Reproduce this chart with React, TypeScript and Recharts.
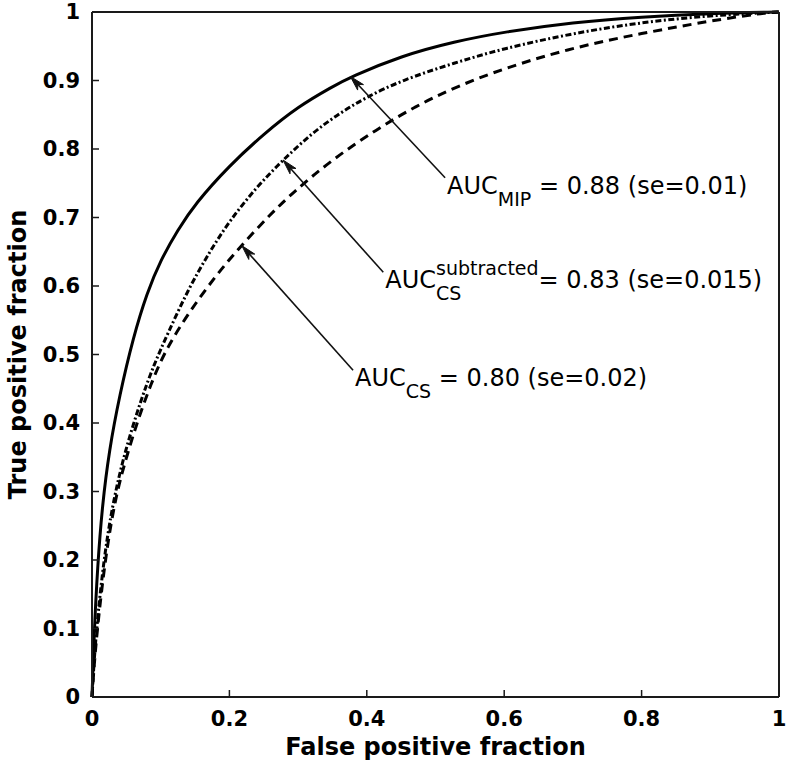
import React from 'react';
import { LineChart, Line, XAxis, YAxis, ReferenceLine } from 'recharts';

// ROC curve readings (false positive fraction -> true positive fraction)
const fprMip = [0, 0.003, 0.008, 0.015, 0.025, 0.04, 0.06, 0.08, 0.1, 0.125, 0.15, 0.2, 0.25, 0.3, 0.35, 0.376, 0.45, 0.528, 0.6, 0.7, 0.8, 0.9, 1];
const tprMip = [0, 0.09, 0.19, 0.28, 0.36, 0.44, 0.525, 0.59, 0.638, 0.682, 0.72, 0.776, 0.822, 0.862, 0.891, 0.905, 0.936, 0.957, 0.971, 0.985, 0.993, 0.998, 1];

const fprSub = [0, 0.004, 0.012, 0.022, 0.035, 0.05, 0.07, 0.09, 0.11, 0.14, 0.17, 0.2, 0.24, 0.278, 0.32, 0.36, 0.4, 0.45, 0.528, 0.6, 0.7, 0.8, 0.9, 1];
const tprSub = [0, 0.07, 0.155, 0.235, 0.305, 0.365, 0.43, 0.485, 0.53, 0.595, 0.648, 0.695, 0.745, 0.784, 0.823, 0.852, 0.876, 0.9, 0.926, 0.947, 0.969, 0.985, 0.995, 1];

const fprCs = [0, 0.004, 0.012, 0.022, 0.035, 0.05, 0.067, 0.085, 0.106, 0.14, 0.18, 0.218, 0.26, 0.293, 0.35, 0.415, 0.47, 0.528, 0.6, 0.7, 0.8, 0.9, 0.972, 1];
const tprCs = [0, 0.06, 0.14, 0.22, 0.295, 0.35, 0.405, 0.455, 0.505, 0.56, 0.615, 0.66, 0.705, 0.737, 0.785, 0.829, 0.862, 0.89, 0.918, 0.948, 0.969, 0.987, 0.998, 1];

const xTicks = [0, 0.2, 0.4, 0.6, 0.8, 1];
const yTicks = [0, 0.1, 0.2, 0.3, 0.4, 0.5, 0.6, 0.7, 0.8, 0.9, 1];

// Annotations: arrow tip on the curve, tail at the label
const annTipX = [0.376, 0.278, 0.218];
const annTipY = [0.906, 0.784, 0.659];
const annTailX = [0.514, 0.424, 0.38];
const annTailY = [0.758, 0.62, 0.477];
const annSub = ['MIP', 'CS', 'CS'];
const annSup = ['', 'subtracted', ''];
const annRest = ['= 0.88 (se=0.01)', '= 0.83 (se=0.015)', '= 0.80 (se=0.02)'];

const toPoints = (xs: number[], ys: number[]) => xs.map((x, i) => ({ x, y: ys[i] }));
const mipData = toPoints(fprMip, tprMip);
const subData = toPoints(fprSub, tprSub);
const csData = toPoints(fprCs, tprCs);

const FONT = 'DejaVu Sans';
const MAIN = 24;
const SMALL = 19;

const makeArrowShape = (i: number) => (props: any) => {
  const { x1, y1, x2, y2 } = props;
  const dx = x1 - x2;
  const dy = y1 - y2;
  const len = Math.hypot(dx, dy) || 1;
  const ux = dx / len;
  const uy = dy / len;
  const hl = 15;
  const hw = 4;
  const bx = x1 - ux * hl;
  const by = y1 - uy * hl;
  const pts = `${x1},${y1} ${bx - uy * hw},${by + ux * hw} ${x1 - ux * (hl - 4)},${y1 - uy * (hl - 4)} ${bx + uy * hw},${by - ux * hw}`;
  const tx = x2 + 2;
  const ty = y2 + 16;
  const supW = 5.398 * SMALL;
  const subW = 1.333 * SMALL;
  return (
    <g>
      <line x1={x2} y1={y2} x2={x1 - ux * 6} y2={y1 - uy * 6} stroke="#111" strokeWidth={1.6} />
      <polygon points={pts} fill="#111" stroke="#111" strokeWidth={1} />
      {annSup[i] ? (
        <text x={tx} y={ty} fontFamily={FONT} fontSize={MAIN} fill="#000">
          <tspan>AUC</tspan>
          <tspan dy={-13} fontSize={SMALL}>{annSup[i]}</tspan>
          <tspan dx={-supW} dy={25} fontSize={SMALL}>{annSub[i]}</tspan>
          <tspan dx={supW - subW} dy={-12} fontSize={MAIN}>{annRest[i]}</tspan>
        </text>
      ) : (
        <text x={tx} y={ty} fontFamily={FONT} fontSize={MAIN} fill="#000">
          <tspan>AUC</tspan>
          <tspan dy={12} fontSize={SMALL}>{annSub[i]}</tspan>
          <tspan dy={-12} fontSize={MAIN}>{' ' + annRest[i]}</tspan>
        </text>
      )}
    </g>
  );
};

const tickStyle = { fontSize: 21, fontWeight: 'bold', fill: '#000', fontFamily: FONT };
const axisLineStyle = { stroke: '#1a1a1a', strokeWidth: 2 };
const tickLineStyle = { stroke: '#1a1a1a', strokeWidth: 1.5 };

const YTitle = (props: any) => {
  const vb = props.viewBox || { x: 12, y: 12, width: 80, height: 685 };
  const cx = vb.x + 14;
  const cy = vb.y + vb.height / 2;
  return (
    <text x={cx} y={cy} transform={`rotate(-90 ${cx} ${cy})`} textAnchor="middle" fontFamily={FONT} fontWeight="bold" fontSize={24} fill="#000">
      True positive fraction
    </text>
  );
};

const XTitle = (props: any) => {
  const vb = props.viewBox || { x: 92, y: 697, width: 687, height: 72 };
  const cx = vb.x + vb.width / 2;
  const cy = vb.y + 58;
  return (
    <text x={cx} y={cy} textAnchor="middle" fontFamily={FONT} fontWeight="bold" fontSize={24} fill="#000">
      False positive fraction
    </text>
  );
};

export default function App() {
  return (
    <div style={{ position: 'absolute', left: 0, top: 0, background: '#fff' }}>
      <LineChart width={787} height={769} margin={{ top: 11, right: 7, bottom: 0, left: 12 }}>
        <XAxis
          xAxisId={0}
          dataKey="x"
          type="number"
          domain={[0, 1]}
          ticks={xTicks}
          interval={0}
          tickSize={-7}
          tickMargin={21}
          height={72}
          axisLine={axisLineStyle}
          tickLine={tickLineStyle}
          tick={tickStyle}
          label={<XTitle />}
        />
        <XAxis
          xAxisId="top"
          orientation="top"
          type="number"
          domain={[0, 1]}
          ticks={xTicks}
          interval={0}
          tickSize={-7}
          height={1}
          axisLine={axisLineStyle}
          tickLine={tickLineStyle}
          tick={false}
        />
        <YAxis
          yAxisId={0}
          type="number"
          domain={[0, 1]}
          ticks={yTicks}
          interval={0}
          tickSize={-7}
          tickMargin={19}
          width={80}
          axisLine={axisLineStyle}
          tickLine={tickLineStyle}
          tick={tickStyle}
          label={<YTitle />}
        />
        <YAxis
          yAxisId="right"
          orientation="right"
          type="number"
          domain={[0, 1]}
          ticks={yTicks}
          interval={0}
          tickSize={-7}
          width={1}
          axisLine={axisLineStyle}
          tickLine={tickLineStyle}
          tick={false}
        />
        <Line data={csData} dataKey="y" type="basis" stroke="#000" strokeWidth={3} strokeDasharray="9 6" dot={false} isAnimationActive={false} />
        <Line data={subData} dataKey="y" type="basis" stroke="#000" strokeWidth={3} strokeDasharray="6 2.5 2 2.5" dot={false} isAnimationActive={false} />
        <Line data={mipData} dataKey="y" type="basis" stroke="#000" strokeWidth={3} dot={false} isAnimationActive={false} />
        {annTipX.map((tx, i) => (
          <ReferenceLine
            key={i}
            segment={[{ x: tx, y: annTipY[i] }, { x: annTailX[i], y: annTailY[i] }]}
            shape={makeArrowShape(i)}
            ifOverflow="visible"
          />
        ))}
      </LineChart>
    </div>
  );
}
